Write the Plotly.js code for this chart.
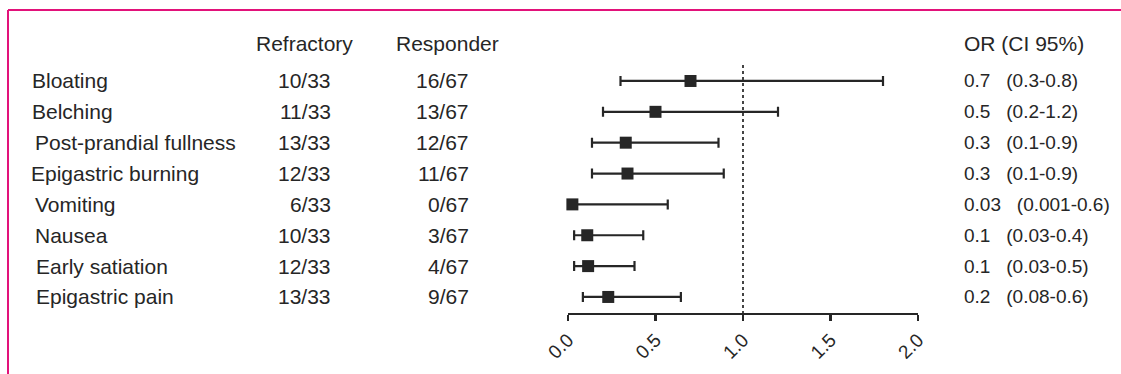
<!DOCTYPE html>
<html>
<head>
<meta charset="utf-8">
<script src="https://cdn.plot.ly/plotly-3.0.1.min.js"></script>
<style>html,body{margin:0;padding:0;background:#fff;}#chart{width:1121px;height:374px;}</style>
</head>
<body>
<div id="chart"></div>
<script>
// ---- data ----
const categories = ["Bloating", "Belching", "Post-prandial fullness", "Epigastric burning", "Vomiting", "Nausea", "Early satiation", "Epigastric pain"];
const refractory = ["10/33", "11/33", "13/33", "12/33", "6/33", "10/33", "12/33", "13/33"];
const responder = ["16/67", "13/67", "12/67", "11/67", "0/67", "3/67", "4/67", "9/67"];
const oddsRatio = [0.70, 0.50, 0.33, 0.34, 0.025, 0.11, 0.115, 0.23];
const ciLow = [0.30, 0.20, 0.137, 0.137, 0.0, 0.035, 0.035, 0.085];
const ciHigh = [1.80, 1.20, 0.86, 0.89, 0.57, 0.43, 0.38, 0.645];
const orLabels = ["0.7", "0.5", "0.3", "0.3", "0.03", "0.1", "0.1", "0.2"];
const ciLabels = ["(0.3-0.8)", "(0.2-1.2)", "(0.1-0.9)", "(0.1-0.9)", "(0.001-0.6)", "(0.03-0.4)", "(0.03-0.5)", "(0.08-0.6)"];
const headers = ["Refractory", "Responder", "OR (CI 95%)"];
const xTicks = [0, 0.5, 1, 1.5, 2];
const xTickText = ["0.0", "0.5", "1.0", "1.5", "2.0"];

// ---- layout helpers (pixel -> paper) ----
const W = 1121, H = 374;
const mL = 568, mR = 203, mT = 35, mB = 61;
const pw = W - mL - mR, ph = H - mT - mB;
const px = p => (p - mL) / pw;
const py = p => (H - mB - p) / ph;
// left edge (px) of each row name, as laid out in the source figure
const nameLeft = [30, 30, 33, 29, 33, 33, 34, 34];

const FONT = "Liberation Sans, Arial, Helvetica, sans-serif";
const INK = "#262626";

const trace = {
  type: "scatter",
  mode: "markers",
  x: oddsRatio,
  y: categories,
  marker: {symbol: "square", size: 12, color: INK},
  error_x: {
    type: "data",
    symmetric: false,
    array: oddsRatio.map((v, i) => ciHigh[i] - v),
    arrayminus: oddsRatio.map((v, i) => v - ciLow[i]),
    color: INK,
    thickness: 2.2,
    width: 5
  },
  hoverinfo: "skip",
  cliponaxis: false
};

const annotations = [];
categories.forEach((c, i) => {
  annotations.push({xref: "paper", yref: "y", x: px(nameLeft[i]), y: i, text: c, showarrow: false, xanchor: "left", yanchor: "middle", font: {family: FONT, size: 21, color: INK}});
  annotations.push({xref: "paper", yref: "y", x: px(333), y: i, text: refractory[i], showarrow: false, xanchor: "right", yanchor: "middle", font: {family: FONT, size: 21, color: INK}});
  annotations.push({xref: "paper", yref: "y", x: px(471), y: i, text: responder[i], showarrow: false, xanchor: "right", yanchor: "middle", font: {family: FONT, size: 21, color: INK}});
  annotations.push({xref: "paper", yref: "y", x: px(962), y: i, text: orLabels[i] + "\u00a0\u00a0\u00a0" + ciLabels[i], showarrow: false, xanchor: "left", yanchor: "middle", font: {family: FONT, size: 19, color: INK}});
});
const headerY = -1.23;
annotations.push({xref: "paper", yref: "y", x: px(304), y: headerY, text: headers[0], showarrow: false, xanchor: "center", yanchor: "middle", font: {family: FONT, size: 21, color: INK}});
annotations.push({xref: "paper", yref: "y", x: px(447), y: headerY, text: headers[1], showarrow: false, xanchor: "center", yanchor: "middle", font: {family: FONT, size: 21, color: INK}});
annotations.push({xref: "paper", yref: "y", x: px(962), y: headerY, text: headers[2], showarrow: false, xanchor: "left", yanchor: "middle", font: {family: FONT, size: 21, color: INK}});

const BORDER = "#E2127A";
const layout = {
  width: W, height: H,
  margin: {l: mL, r: mR, t: mT, b: mB, pad: 0},
  paper_bgcolor: "#ffffff",
  plot_bgcolor: "#ffffff",
  showlegend: false,
  xaxis: {
    range: [0, 2],
    tickvals: xTicks,
    ticktext: xTickText,
    tickangle: -45,
    ticks: "outside",
    ticklen: 6,
    tickwidth: 2.2,
    tickcolor: INK,
    showline: true,
    linecolor: INK,
    linewidth: 2.4,
    showgrid: false,
    zeroline: false,
    tickfont: {family: FONT, size: 19, color: INK},
    fixedrange: true
  },
  yaxis: {
    type: "category",
    categoryarray: categories,
    range: [7.52, -1.49],
    visible: false,
    showgrid: false,
    zeroline: false,
    fixedrange: true
  },
  shapes: [
    {type: "line", xref: "x", yref: "y", x0: 1, x1: 1, y0: -0.52, y1: 7.52, line: {color: "#444", width: 2, dash: "dot"}},
    {type: "line", xref: "paper", yref: "paper", x0: px(8), x1: px(1121), y0: py(10), y1: py(10), line: {color: BORDER, width: 2}},
    {type: "line", xref: "paper", yref: "paper", x0: px(8), x1: px(8), y0: py(10), y1: py(374), line: {color: BORDER, width: 2}}
  ],
  annotations: annotations
};

Plotly.newPlot("chart", [trace], layout, {displayModeBar: false, staticPlot: true});
</script>
</body>
</html>
